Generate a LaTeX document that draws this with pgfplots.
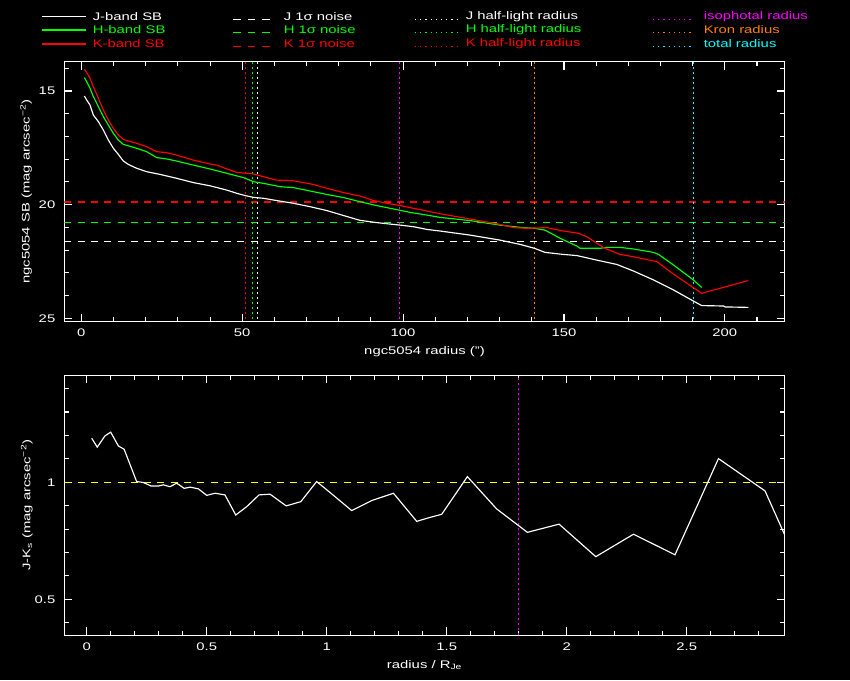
\documentclass[border=0pt]{standalone}
\usepackage{fontspec}
\setmainfont{Liberation Sans}[FakeStretch=1.35]
\usepackage{pgfplots}
\pgfplotsset{compat=1.18}
\definecolor{pgG}{RGB}{0,255,0}
\definecolor{pgR}{RGB}{255,0,0}
\definecolor{pgM}{RGB}{255,0,255}
\definecolor{pgO}{RGB}{255,128,0}
\definecolor{pgC}{RGB}{0,255,255}
\definecolor{pgY}{RGB}{255,255,0}
\pgfplotsset{
  pgstyle/.style={
    scale only axis, width=720.4pt, height=260pt, anchor=south west,
    axis line style={white, line width=1.1pt},
    tick style={white, line width=1.1pt},
    major tick length=8pt, minor tick length=4.5pt,
    tick label style={white},
    /pgf/number format/assume math mode=true,
    xticklabel style={yshift=-4pt},
    yticklabel style={xshift=-5.5pt},
    clip=true,
  },
  noise/.style={line width=1.2pt, dash pattern=on 7pt off 6.3pt},
  vrad/.style={line width=1.2pt, dash pattern=on 2.5pt off 2.5pt},
  prof/.style={line width=1.15pt, mark=none},
}
\begin{document}
\begin{tikzpicture}[font=\fontsize{11}{13}\selectfont]
\useasboundingbox (0,0) rectangle (850pt,680pt);
\fill[black] (0,0) rectangle (850pt,680pt);

% legend
\begin{scope}[line width=1.6pt]
\draw[white] (42pt,663.5pt) -- (86pt,663.5pt);
\node[white,anchor=west,inner sep=0pt] at (92pt,663.3pt) {J-band SB};
\draw[pgG] (42pt,650pt) -- (86pt,650pt);
\node[pgG,anchor=west,inner sep=0pt] at (92pt,650pt) {H-band SB};
\draw[pgR] (42pt,636pt) -- (86pt,636pt);
\node[pgR,anchor=west,inner sep=0pt] at (92pt,636pt) {K-band SB};

\draw[white,dash pattern=on 7.5pt off 7pt] (233pt,660.5pt) -- (276pt,660.5pt);
\node[white,anchor=west,inner sep=0pt] at (283pt,663.3pt) {J 1σ noise};
\draw[pgG,dash pattern=on 7.5pt off 7pt] (233pt,647.5pt) -- (276pt,647.5pt);
\node[pgG,anchor=west,inner sep=0pt] at (283pt,650pt) {H 1σ noise};
\draw[pgR,dash pattern=on 7.5pt off 7pt] (233pt,633.5pt) -- (276pt,633.5pt);
\node[pgR,anchor=west,inner sep=0pt] at (283pt,636pt) {K 1σ noise};

\draw[white,dash pattern=on 1.2pt off 4pt] (415pt,660.5pt) -- (458pt,660.5pt);
\node[white,anchor=west,inner sep=0pt] at (465pt,663.3pt) {J half-light radius};
\draw[pgG,dash pattern=on 1.2pt off 4pt] (415pt,647.5pt) -- (458pt,647.5pt);
\node[pgG,anchor=west,inner sep=0pt] at (465pt,650pt) {H half-light radius};
\draw[pgR,dash pattern=on 1.2pt off 4pt] (415pt,633.5pt) -- (458pt,633.5pt);
\node[pgR,anchor=west,inner sep=0pt] at (465pt,636pt) {K half-light radius};

\draw[pgM,dash pattern=on 1.2pt off 4pt] (653pt,660.5pt) -- (694pt,660.5pt);
\node[pgM,anchor=west,inner sep=0pt] at (703pt,663.3pt) {isophotal radius};
\draw[pgO,dash pattern=on 1.2pt off 4pt] (653pt,647.5pt) -- (694pt,647.5pt);
\node[pgO,anchor=west,inner sep=0pt] at (703pt,650pt) {Kron radius};
\draw[pgC,dash pattern=on 1.2pt off 4pt] (653pt,633.5pt) -- (694pt,633.5pt);
\node[pgC,anchor=west,inner sep=0pt] at (703pt,636pt) {total radius};
\end{scope}

% top panel
\begin{axis}[pgstyle, at={(64.3pt,358.3pt)},
  xmin=-5.3, xmax=218.6, ymin=13.71, ymax=25.15, y dir=reverse,
  xtick={0,50,100,150,200}, minor xtick={10,20,30,40,60,70,80,90,110,120,130,140,160,170,180,190,210},
  ytick={15,20,25}, minor ytick={14,16,17,18,19,21,22,23,24,25},
  xlabel={ngc5054 radius (")},
  ylabel={ngc5054 SB (mag arcsec\textsuperscript{−2})},
  every axis x label/.style={at={(axis description cs:0.5,-0.115)}, anchor=center, white},
  every axis y label/.style={at={(axis description cs:-0.053,0.5)}, rotate=90, anchor=center, white},
]
% noise levels
\addplot[white, noise] coordinates {(-5.3,21.61) (218.6,21.61)};
\addplot[pgG, noise] coordinates {(-5.3,20.78) (218.6,20.78)};
\addplot[pgR, noise] coordinates {(-5.3,19.88) (218.6,19.88)};
% radii
\addplot[pgR, vrad] coordinates {(51.0,13.71) (51.0,25.15)};
\addplot[pgG, vrad] coordinates {(53.2,13.71) (53.2,25.15)};
\addplot[white, vrad] coordinates {(54.8,13.71) (54.8,25.15)};
\addplot[pgM, vrad] coordinates {(98.9,13.71) (98.9,25.15)};
\addplot[pgO, vrad] coordinates {(140.8,13.71) (140.8,25.15)};
\addplot[pgC, vrad] coordinates {(190.2,13.71) (190.2,25.15)};
% J
\addplot[white, prof] coordinates {
(0.94,15.22) (1.67,15.40) (2.7,15.62) (3.74,16.06) (5.3,16.35) (6.85,16.72)
(8.4,17.16) (9.95,17.52) (11.5,17.79) (13.06,18.08) (14.6,18.23) (17.2,18.40)
(20.3,18.55) (24.5,18.67) (29.6,18.84) (34.8,19.03) (40.0,19.17) (45.2,19.36)
(48.3,19.50) (50.9,19.60) (53.5,19.68) (56.6,19.72) (60.7,19.82) (65.9,19.94)
(71.1,20.09) (76.3,20.26) (81.5,20.48) (86.6,20.69) (91.8,20.79) (97.0,20.87)
(99.1,20.90) (103.2,20.97) (107.4,21.09) (111.5,21.16) (120.8,21.34) (130.1,21.56)
(136.4,21.75) (140.8,21.92) (144.1,22.10) (149.8,22.19) (154.0,22.24) (160.2,22.44)
(166.4,22.63) (171.6,22.92) (177.8,23.31) (184.0,23.75) (190.2,24.24) (192.8,24.44)
(199.6,24.46) (200.1,24.50) (207.3,24.52)
};
% H
\addplot[pgG, prof] coordinates {
(0.94,14.41) (1.67,14.59) (2.7,14.88) (3.74,15.25) (5.3,15.69) (6.85,16.13)
(8.4,16.50) (9.95,16.86) (11.5,17.16) (13.06,17.35) (14.6,17.41) (17.2,17.52)
(20.3,17.67) (23.4,17.93) (26.5,17.99) (29.6,18.08) (34.8,18.26) (40.0,18.43)
(45.2,18.62) (50.4,18.81) (53.5,18.99) (57.6,19.09) (61.8,19.21) (65.9,19.25)
(71.1,19.40) (76.3,19.55) (81.5,19.69) (86.6,19.87) (91.8,20.04) (97.0,20.19)
(102.2,20.34) (107.4,20.46) (111.5,20.56) (120.8,20.70) (130.1,20.90) (136.4,21.00)
(140.8,21.04) (144.1,21.12) (148.8,21.48) (154.0,21.82) (155.0,21.92) (161.2,21.92)
(163.3,21.88) (167.4,21.88) (171.6,21.95) (177.8,22.10) (179.4,22.19) (184.0,22.65)
(190.2,23.31) (192.8,23.64)
};
% K
\addplot[pgR, prof] coordinates {
(0.94,14.05) (1.8,14.22) (2.7,14.44) (3.74,14.81) (5.3,15.32) (6.85,15.84)
(8.4,16.28) (9.95,16.64) (11.5,16.94) (13.06,17.13) (14.6,17.20) (17.2,17.30)
(20.3,17.45) (23.4,17.67) (26.5,17.71) (29.6,17.82) (34.8,18.04) (40.0,18.21)
(42.1,18.26) (45.2,18.43) (48.3,18.58) (53.5,18.65) (56.6,18.77) (60.7,18.92)
(65.9,18.95) (72.1,19.11) (76.3,19.28) (81.5,19.47) (86.6,19.62) (90.8,19.82)
(94.9,19.94) (99.1,20.04) (103.2,20.16) (107.4,20.28) (111.5,20.40) (120.8,20.63)
(130.1,20.87) (134.3,21.01) (138.4,21.04) (144.7,21.01) (149.8,21.16) (154.5,21.26)
(157.1,21.41) (162.3,21.89) (167.4,22.19) (171.6,22.29) (178.9,22.51) (184.0,23.05)
(190.2,23.65) (192.8,23.90) (198.5,23.68) (207.3,23.34)
};
\end{axis}

% bottom panel
\begin{axis}[pgstyle, at={(64.3pt,44.7pt)},
  xmin=-0.0933, xmax=2.908, ymin=0.346, ymax=1.457,
  xtick={0,0.5,1,1.5,2,2.5},
  minor xtick={0.1,0.2,0.3,0.4,0.6,0.7,0.8,0.9,1.1,1.2,1.3,1.4,1.6,1.7,1.8,1.9,2.1,2.2,2.3,2.4,2.6,2.7,2.8},
  ytick={0.5,1}, minor ytick={0.4,0.6,0.7,0.8,0.9,1.1,1.2,1.3,1.4},
  xlabel={radius / R\textsubscript{Je}},
  ylabel={J-K\textsubscript{s} (mag arcsec\textsuperscript{−2})},
  every axis x label/.style={at={(axis description cs:0.5,-0.114)}, anchor=center, white},
  every axis y label/.style={at={(axis description cs:-0.052,0.5)}, rotate=90, anchor=center, white},
]
\addplot[pgY, noise] coordinates {(-0.0933,1) (2.908,1)};
\addplot[pgM, vrad] coordinates {(1.8,0.346) (1.8,1.457)};
\addplot[white, prof] coordinates {
(0.021,1.188) (0.044,1.150) (0.076,1.198) (0.100,1.214) (0.132,1.155) (0.156,1.141)
(0.208,1.003) (0.236,0.999) (0.268,0.984) (0.299,0.984) (0.319,0.989) (0.347,0.981)
(0.375,0.996) (0.406,0.974) (0.431,0.979) (0.465,0.972) (0.500,0.944) (0.535,0.953)
(0.576,0.946) (0.621,0.860) (0.667,0.896) (0.718,0.946) (0.764,0.949) (0.831,0.899)
(0.892,0.917) (0.958,1.003) (1.014,0.956) (1.104,0.879) (1.188,0.922) (1.278,0.953)
(1.375,0.833) (1.431,0.850) (1.479,0.863) (1.586,1.024) (1.708,0.886) (1.836,0.786)
(1.968,0.821) (2.121,0.682) (2.278,0.778) (2.451,0.690) (2.632,1.101) (2.826,0.963)
(2.908,0.775)
};
\end{axis}
\end{tikzpicture}
\end{document}
